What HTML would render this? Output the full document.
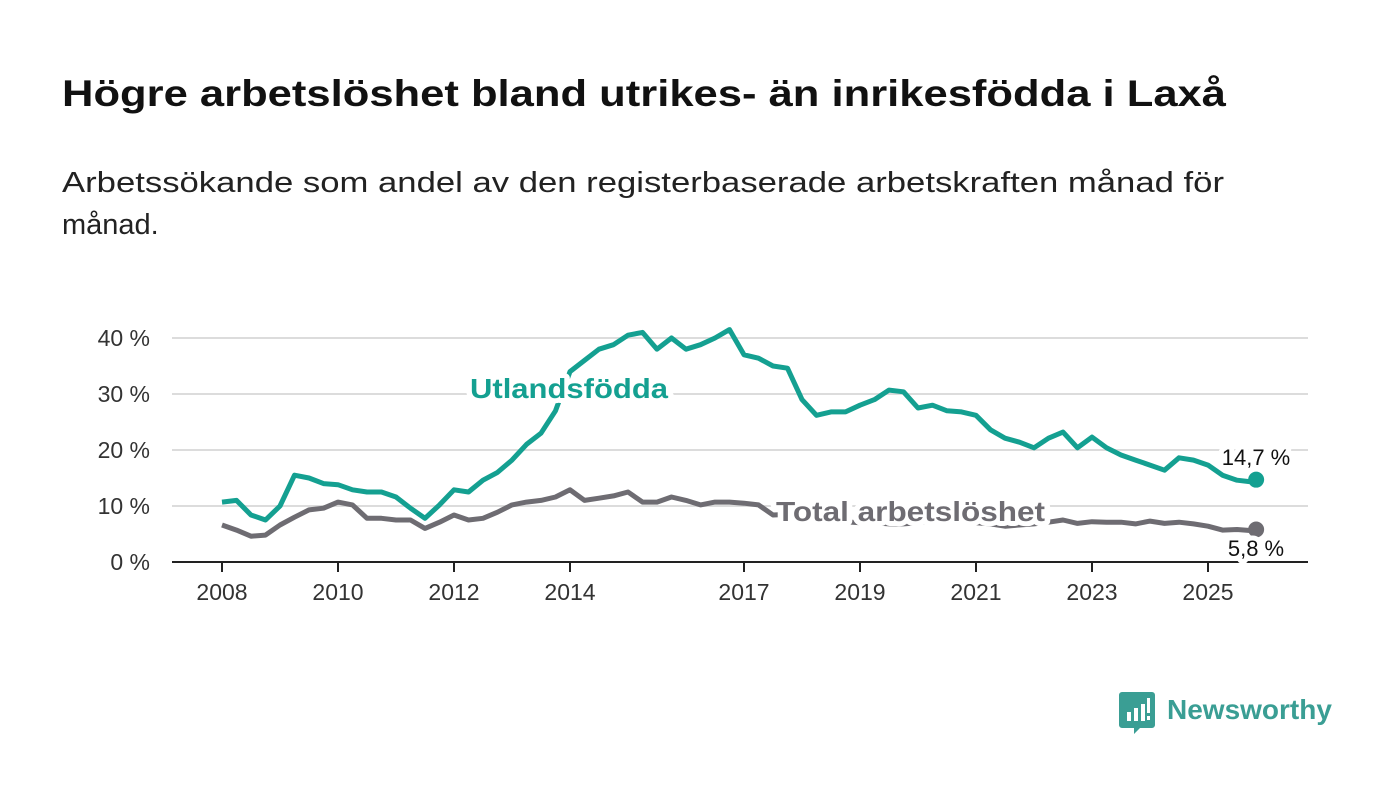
<!DOCTYPE html>
<html><head><meta charset="utf-8"><style>
html,body{margin:0;padding:0;background:#fff;}
svg{display:block;font-family:"Liberation Sans",sans-serif;}
</style></head><body>
<svg id="chart" width="1400" height="794" viewBox="0 0 1400 794">
<text x="62" y="106" font-size="37" font-weight="bold" fill="#111" textLength="1164" lengthAdjust="spacingAndGlyphs">Högre arbetslöshet bland utrikes- än inrikesfödda i Laxå</text>
<text x="62" y="192" font-size="29" fill="#222" textLength="1162" lengthAdjust="spacingAndGlyphs">Arbetssökande som andel av den registerbaserade arbetskraften månad för</text>
<text x="62" y="234" font-size="29" fill="#222">månad.</text>
<g id="grid"></g>
<g id="yaxis"></g>
<g id="xaxis"></g>
<g id="series"></g>
<g>
<path d="M1122 692 h30 a3 3 0 0 1 3 3 v30 a3 3 0 0 1 -3 3 h-12 l-6 6 v-6 h-12 a3 3 0 0 1 -3 -3 v-30 a3 3 0 0 1 3 -3z" fill="#3a9e94"/>
<rect x="1127" y="712" width="4" height="9" fill="#fff"/><rect x="1134" y="708" width="4" height="13" fill="#fff"/><rect x="1141" y="704" width="4" height="17" fill="#fff"/><rect x="1147" y="698" width="3" height="15" fill="#fff"/><rect x="1147" y="716" width="3" height="4" fill="#fff"/>
<text x="1167" y="719" font-size="28" font-weight="bold" fill="#3a9e94">Newsworthy</text>
</g>
</svg>
<script>
const startYear = 2008;
const yTicks = [0,10,20,30,40];
const xTickYears = [2008,2010,2012,2014,2017,2019,2021,2023,2025];
const foreignBorn = [10.7,11,8.4,7.5,10,15.5,15,14,13.8,12.9,12.5,12.5,11.6,9.6,7.8,10.2,12.9,12.5,14.6,16,18.2,21,23,27,34,36,38,38.8,40.5,41,38,40,38,38.8,40,41.5,37,36.4,35,34.6,29,26.2,26.8,26.8,28,29,30.7,30.4,27.5,28,27,26.8,26.2,23.6,22.1,21.4,20.4,22.1,23.2,20.4,22.3,20.4,19.1,18.2,17.3,16.4,18.6,18.2,17.3,15.5,14.6,14.3,14.7];
const total = [6.6,5.7,4.6,4.8,6.6,8,9.3,9.6,10.7,10.2,7.8,7.8,7.5,7.5,6,7.1,8.4,7.5,7.8,8.9,10.2,10.7,11,11.6,12.9,11,11.4,11.8,12.5,10.7,10.7,11.6,11,10.2,10.7,10.7,10.5,10.2,8.4,8.5,8,7.8,7.5,7.2,7,7,6.8,6.8,7,7.5,7.5,7.2,7,6.8,6.4,6.6,6.8,7.1,7.5,6.9,7.2,7.1,7.1,6.8,7.3,6.9,7.1,6.8,6.4,5.7,5.8,5.6,5.8];
const lastDate = 2025.83;
const ns="http://www.w3.org/2000/svg";
const X0=172,X1=1308;
function xs(t){return 222+(t-2008)*58;}
function ys(v){return 562-v*5.6;}
function dateOf(i,n){return i===n-1?lastDate:startYear+i/4;}
function mk(tag,attrs,parent){const e=document.createElementNS(ns,tag);for(const k in attrs)e.setAttribute(k,attrs[k]);parent.appendChild(e);return e;}
const grid=document.getElementById('grid'),ya=document.getElementById('yaxis'),xa=document.getElementById('xaxis'),ser=document.getElementById('series');
yTicks.forEach(v=>{
  if(v>0){const l=mk('line',{x1:X0,x2:X1,y1:ys(v),y2:ys(v),stroke:'#dcdcdc','stroke-width':2},grid);
  
  }
  const t=mk('text',{x:150,y:ys(v)+8,'text-anchor':'end','font-size':23,fill:'#333'},ya);
  
  
  t.textContent=v+' %';
});
const base=mk('line',{x1:X0,x2:X1,y1:562,y2:562,stroke:'#222','stroke-width':2},xa);


xTickYears.forEach(y=>{
  const tk=mk('line',{x1:xs(y),x2:xs(y),y1:562,y2:572,stroke:'#222','stroke-width':2},xa);
  
  
  const t=mk('text',{x:xs(y),y:600,'text-anchor':'middle','font-size':23,fill:'#333'},xa);
  
  
  t.textContent=y;
});
function line(arr,color,name){
  const d=arr.map((v,i)=>(i?'L':'M')+xs(dateOf(i,arr.length)).toFixed(1)+' '+ys(v).toFixed(1)).join(' ');
  const p=mk('path',{d:d,fill:'none',stroke:color,'stroke-width':5,'stroke-linejoin':'round'},ser);
  
  
  const n=arr.length;
  const c=mk('circle',{cx:xs(lastDate),cy:ys(arr[n-1]),r:8,fill:color},ser);
  
  
}
line(total,'#6e6c72','total');
line(foreignBorn,'#14a091','foreign-born');
function label(txt,x,y,color,size,bold,anchor,name,len){
  const a={x:x,y:y,fill:color,'font-size':size,'font-weight':bold?'bold':'normal','text-anchor':anchor||'start',stroke:'#fff','stroke-width':10,'paint-order':'stroke','stroke-linejoin':'round'};
  if(len){a.textLength=len;a.lengthAdjust='spacingAndGlyphs';}
  const t=mk('text',a,ser);
  
  
  t.textContent=txt;
}
label('Utlandsfödda',470,398,'#14a091',28,true,'start','foreign-born-label',198);
label('Total arbetslöshet',776,521,'#6e6c72',28,true,'start','total-label',269);
label(String(foreignBorn[foreignBorn.length-1]).replace('.',',')+' %',1256,465,'#111',22,false,'middle','foreign-born-end-value');
label(String(total[total.length-1]).replace('.',',')+' %',1256,556,'#111',22,false,'middle','total-end-value');
</script>
</body></html>
